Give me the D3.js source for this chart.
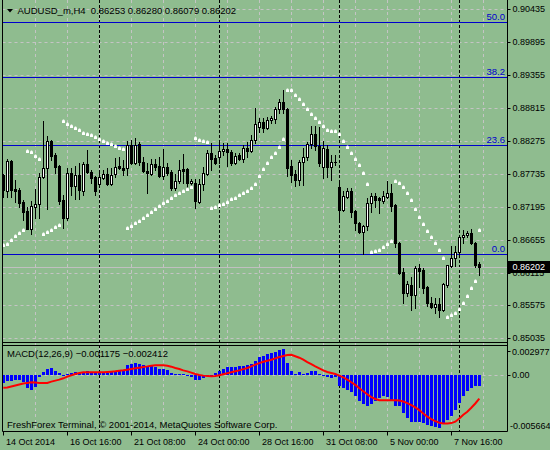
<!DOCTYPE html>
<html>
<head>
<meta charset="utf-8">
<script src="https://cdn.jsdelivr.net/npm/d3@7"></script>
<style>
  body { margin: 0; background: #8fbc8f; }
  svg { display: block; font-family: "Liberation Sans", Arial, sans-serif; }
</style>
</head>
<body>
<svg id="chart"></svg>
<script>
// AUDUSD_m H4, 120 bars from 14 Oct 2014 00:00
var opens = [0.87716,0.87453,0.87946,0.87486,0.87470,0.87273,0.87125,0.86829,0.87191,0.87240,
  0.87683,0.87831,0.88274,0.88044,0.87863,0.87305,0.87010,0.87749,0.87535,0.87716,
  0.87453,0.87896,0.87765,0.87683,0.87568,0.87666,0.87732,0.87568,0.87732,0.87863,
  0.87831,0.87831,0.88208,0.87913,0.88225,0.87929,0.87781,0.87732,0.87896,0.87863,
  0.87699,0.87847,0.87765,0.87502,0.87617,0.87814,0.87814,0.87584,0.87584,0.87273,
  0.87568,0.87732,0.88077,0.87995,0.88011,0.88110,0.88142,0.88093,0.87913,0.88044,
  0.87978,0.88159,0.88110,0.88290,0.88504,0.88586,0.88487,0.88618,0.88635,0.88799,
  0.88914,0.88799,0.87863,0.87732,0.87634,0.87929,0.88011,0.88225,0.88389,0.88192,
  0.87847,0.88142,0.87847,0.87929,0.87519,0.87141,0.87355,0.87453,0.87125,0.86928,
  0.86780,0.86879,0.87256,0.87371,0.87338,0.87289,0.87355,0.87420,0.87223,0.86600,
  0.86124,0.85779,0.85910,0.85746,0.86189,0.86156,0.85877,0.85615,0.85549,0.85598,
  0.85500,0.85910,0.86222,0.86353,0.86452,0.86698,0.86731,0.86764,0.86600,0.86253];
var highs = [0.87732,0.87978,0.87962,0.87634,0.87502,0.87305,0.87191,0.87289,0.87486,0.87749,
  0.88602,0.88356,0.88290,0.88077,0.87880,0.87387,0.87831,0.87831,0.87863,0.87913,
  0.87929,0.88126,0.87798,0.87699,0.87798,0.87798,0.87831,0.87831,0.87995,0.88011,
  0.87962,0.88274,0.88290,0.88323,0.88257,0.88011,0.87913,0.87978,0.87978,0.88011,
  0.88142,0.87913,0.87798,0.87732,0.87962,0.88060,0.87831,0.87650,0.87650,0.87650,
  0.87847,0.88126,0.88241,0.88044,0.88241,0.88241,0.88241,0.88126,0.88077,0.88077,
  0.88208,0.88257,0.88372,0.88815,0.88651,0.88651,0.88668,0.88684,0.88832,0.88963,
  0.89111,0.88815,0.87962,0.87798,0.87962,0.88159,0.88257,0.88520,0.88520,0.88504,
  0.88274,0.88208,0.88044,0.88044,0.87601,0.87453,0.87502,0.87502,0.87141,0.86944,
  0.86895,0.87338,0.87420,0.87420,0.87355,0.87453,0.87617,0.87568,0.87240,0.86616,
  0.86189,0.85976,0.86042,0.86222,0.86255,0.86189,0.85894,0.85713,0.85697,0.85697,
  0.85943,0.86239,0.86550,0.86550,0.86715,0.86813,0.86797,0.86829,0.86616,0.86280];
var lows = [0.87355,0.87355,0.87355,0.87273,0.87191,0.86977,0.86829,0.86747,0.87010,0.87010,
  0.87666,0.87158,0.87962,0.87749,0.87240,0.86846,0.86977,0.87387,0.87322,0.87322,
  0.87387,0.87749,0.87584,0.87387,0.87552,0.87650,0.87552,0.87552,0.87683,0.87814,
  0.87716,0.87716,0.87896,0.87896,0.87880,0.87765,0.87420,0.87716,0.87798,0.87683,
  0.87650,0.87716,0.87470,0.87470,0.87584,0.87584,0.87519,0.87535,0.87174,0.87256,
  0.87470,0.87716,0.87798,0.87896,0.87913,0.88044,0.87863,0.87880,0.87896,0.87962,
  0.87929,0.88011,0.88093,0.88241,0.88421,0.88421,0.88471,0.88569,0.88569,0.88733,
  0.88733,0.87699,0.87601,0.87535,0.87552,0.87552,0.87962,0.88159,0.88126,0.87863,
  0.87666,0.87683,0.87634,0.87880,0.86977,0.87125,0.87338,0.87026,0.86813,0.86764,
  0.86419,0.86813,0.87108,0.87191,0.87092,0.87256,0.87338,0.87125,0.86534,0.86091,
  0.85615,0.85730,0.85500,0.85533,0.85877,0.85779,0.85566,0.85533,0.85451,0.85385,
  0.85484,0.85877,0.86206,0.86222,0.86403,0.86600,0.86698,0.86583,0.86206,0.86079];
var closes = [0.87470,0.87946,0.87470,0.87453,0.87256,0.87108,0.86829,0.87207,0.87240,0.87683,
  0.87831,0.88274,0.88028,0.87847,0.87289,0.87010,0.87749,0.87535,0.87716,0.87470,
  0.87896,0.87765,0.87666,0.87453,0.87683,0.87732,0.87568,0.87716,0.87847,0.87831,
  0.87798,0.88208,0.87913,0.88208,0.87929,0.87781,0.87749,0.87896,0.87847,0.87699,
  0.87847,0.87749,0.87502,0.87617,0.87798,0.87781,0.87584,0.87617,0.87289,0.87568,
  0.87749,0.88077,0.87978,0.87913,0.88110,0.88142,0.88093,0.87913,0.88028,0.87978,
  0.88159,0.88110,0.88290,0.88553,0.88586,0.88487,0.88618,0.88651,0.88799,0.88914,
  0.88799,0.87831,0.87716,0.87634,0.87929,0.88011,0.88225,0.88389,0.88192,0.87913,
  0.88159,0.87847,0.87929,0.87921,0.87141,0.87371,0.87453,0.87108,0.86928,0.86780,
  0.86879,0.87256,0.87371,0.87305,0.87305,0.87371,0.87420,0.87207,0.86600,0.86107,
  0.85779,0.85927,0.85746,0.86189,0.86140,0.85861,0.85615,0.85549,0.85598,0.85500,
  0.85927,0.86239,0.86353,0.86452,0.86698,0.86731,0.86764,0.86600,0.86239,0.86202];
var sar = [0.86567,0.86583,0.86649,0.86710,0.86764,0.86813,0.88110,0.88093,0.88028,0.87978,
  0.86747,0.86780,0.86813,0.86857,0.86895,0.88607,0.88553,0.88520,0.88492,0.88454,
  0.88410,0.88384,0.88372,0.88344,0.88307,0.88274,0.88246,0.88220,0.88192,0.88164,
  0.88142,0.86841,0.86879,0.86923,0.86961,0.87010,0.87059,0.87113,0.87163,0.87207,
  0.87251,0.87294,0.87333,0.87387,0.87420,0.87448,0.87481,0.87519,0.88323,0.88290,
  0.88274,0.88252,0.87174,0.87191,0.87218,0.87240,0.87273,0.87314,0.87346,0.87379,
  0.87412,0.87445,0.87502,0.87568,0.87699,0.87814,0.87908,0.88003,0.88082,0.88175,
  0.88298,0.89111,0.89111,0.89029,0.88963,0.88876,0.88799,0.88717,0.88646,0.88581,
  0.88520,0.88454,0.88443,0.88438,0.88389,0.88279,0.88180,0.88082,0.87983,0.87885,
  0.87753,0.87568,0.86447,0.86463,0.86485,0.86529,0.86575,0.86632,0.87622,0.87584,
  0.87524,0.87420,0.87305,0.87158,0.87026,0.86912,0.86797,0.86693,0.86600,0.86485,
  0.86358,0.85390,0.85418,0.85446,0.85511,0.85610,0.85730,0.85861,0.85976,0.86813];
var macdMain = [-0.00080,-0.00060,-0.00060,-0.00050,-0.00050,-0.00070,-0.00130,-0.00150,-0.00120,-0.00020,
  0.00030,0.00060,0.00070,0.00040,0.00020,-0.00003,0.00010,0.00020,0.00030,0.00020,
  0.00030,0.00040,0.00030,0.00020,0.00020,0.00020,0.00020,0.00023,0.00033,0.00043,
  0.00050,0.00100,0.00110,0.00117,0.00110,0.00100,0.00083,0.00083,0.00073,0.00057,
  0.00057,0.00043,0.00017,0.00007,0.00010,0.00007,-0.00017,-0.00023,-0.00050,-0.00057,
  -0.00033,-0.00017,-0.00005,0.00017,0.00033,0.00057,0.00077,0.00077,0.00077,0.00083,
  0.00090,0.00093,0.00107,0.00140,0.00173,0.00190,0.00207,0.00217,0.00227,0.00250,
  0.00260,0.00117,0.00033,0.00007,0.00023,0.00010,0.00017,0.00033,0.00033,0.00010,
  -0.00002,-0.00027,-0.00033,-0.00027,-0.00117,-0.00133,-0.00150,-0.00173,-0.00217,-0.00267,
  -0.00300,-0.00317,-0.00300,-0.00267,-0.00233,-0.00217,-0.00223,-0.00267,-0.00317,-0.00320,
  -0.00383,-0.00433,-0.00473,-0.00473,-0.00473,-0.00483,-0.00507,-0.00517,-0.00527,-0.00533,
  -0.00500,-0.00460,-0.00417,-0.00360,-0.00283,-0.00217,-0.00167,-0.00133,-0.00117,-0.001175];
var macdSignal = [-0.00133,-0.00130,-0.00120,-0.00110,-0.00100,-0.00090,-0.00083,-0.00077,-0.00080,-0.00083,
  -0.00083,-0.00083,-0.00070,-0.00060,-0.00050,-0.00037,-0.00020,-0.00007,0.00007,0.00017,
  0.00023,0.00023,0.00023,0.00023,0.00023,0.00023,0.00027,0.00030,0.00033,0.00040,
  0.00043,0.00050,0.00057,0.00063,0.00070,0.00077,0.00083,0.00090,0.00093,0.00093,
  0.00093,0.00090,0.00080,0.00067,0.00057,0.00043,0.00033,0.00020,0.00007,-0.00003,
  -0.00010,-0.00015,-0.00017,-0.00013,-0.00007,0.00003,0.00013,0.00023,0.00033,0.00043,
  0.00055,0.00067,0.00083,0.00100,0.00115,0.00130,0.00140,0.00150,0.00163,0.00177,
  0.00187,0.00197,0.00200,0.00185,0.00170,0.00150,0.00125,0.00105,0.00083,0.00063,
  0.00043,0.00027,0.00017,0.00007,-0.00010,-0.00027,-0.00050,-0.00077,-0.00103,-0.00137,
  -0.00167,-0.00197,-0.00225,-0.00245,-0.00257,-0.00257,-0.00257,-0.00257,-0.00257,-0.00260,
  -0.00270,-0.00287,-0.00307,-0.00330,-0.00357,-0.00390,-0.00423,-0.00447,-0.00467,-0.00483,
  -0.00490,-0.00490,-0.00487,-0.00473,-0.00440,-0.00403,-0.00373,-0.00333,-0.00290,-0.002412];

var priceTicks = [0.90435,0.89895,0.89355,0.88815,0.88275,0.87735,0.87195,0.86655,0.86115,0.85575,0.85035];
var fibNames = ["0.0","23.6","38.2","50.0"];
var fibPrices = [0.86414,0.88211,0.89323,0.90222];
var bidPrice = 0.86202;
var macdTicks = [0.002977, 0.00, -0.005664];
var macdTickLabels = ["0.002977", "0.00", "-0.005664"];
var timeBars = [0,16,32,48,64,80,96,112];
var timeLabels = ["14 Oct 2014","16 Oct 16:00","21 Oct 08:00","24 Oct 00:00","28 Oct 16:00","31 Oct 08:00","5 Nov 00:00","7 Nov 16:00"];
var weekStarts = [24,54,84,114];

var W = 550, H = 450;
var L = 2.5, R = 507.5, mainBottom = 342.5, subTop = 345.5, subBottom = 431.5;

var svg = d3.select("#chart").attr("width", W).attr("height", H);
svg.append("rect").attr("width", W).attr("height", H).attr("fill", "#8fbc8f");

var bars = d3.range(opens.length);
var x = d3.scaleLinear().domain([0, 119]).range([3.3, 479.3]);
var y = d3.scaleLinear().domain([0.85035, 0.90435]).range([338.3, 9.3]);
var ym = d3.scaleLinear().domain([-0.005664, 0.002977]).range([431, 345]);

var px = function(i) { return Math.round(x(i)); };
var py = function(v) { return Math.round(y(v)); };

// grid (grey dashed)
var grid = svg.append("g").attr("stroke", "#c4c4c4").attr("stroke-dasharray", "3,3");
grid.selectAll("line.h").data(priceTicks).enter().append("line")
  .attr("x1", L).attr("x2", R)
  .attr("y1", function(d) { return py(d) + 0.5; })
  .attr("y2", function(d) { return py(d) + 0.5; });
grid.selectAll("line.v").data(d3.range(8, 121, 8)).enter().append("line")
  .attr("x1", function(d) { return px(d) + 0.5; })
  .attr("x2", function(d) { return px(d) + 0.5; })
  .attr("y1", 0).attr("y2", subBottom);
grid.append("line").attr("x1", L).attr("x2", R)
  .attr("y1", Math.round(ym(0)) + 0.5).attr("y2", Math.round(ym(0)) + 0.5);

// week separators
svg.append("g").attr("stroke", "#000").attr("stroke-dasharray", "3,2")
  .selectAll("line").data(weekStarts).enter().append("line")
  .attr("x1", function(d) { return px(d) + 0.5; })
  .attr("x2", function(d) { return px(d) + 0.5; })
  .attr("y1", 0).attr("y2", subBottom);

// fibonacci levels
var fib = svg.append("g");
fib.selectAll("line").data(fibPrices).enter().append("line")
  .attr("x1", L).attr("x2", R)
  .attr("y1", function(d) { return py(d) + 0.5; })
  .attr("y2", function(d) { return py(d) + 0.5; })
  .attr("stroke", "#0000cd");
fib.selectAll("text").data(fibPrices).enter().append("text")
  .attr("x", 505).attr("y", function(d) { return py(d) - 2; })
  .attr("text-anchor", "end").attr("font-size", 9.5).attr("fill", "#0000cd")
  .text(function(d, i) { return fibNames[i]; });

// bid line
svg.append("line").attr("x1", L).attr("x2", R)
  .attr("y1", py(bidPrice) + 0.5).attr("y2", py(bidPrice) + 0.5)
  .attr("stroke", "#c0c0c0");

// candles
var candles = svg.append("g");
candles.selectAll("line").data(bars).enter().append("line")
  .attr("x1", function(i) { return px(i) + 0.5; })
  .attr("x2", function(i) { return px(i) + 0.5; })
  .attr("y1", function(i) { return py(highs[i]); })
  .attr("y2", function(i) { return py(lows[i]) + 1; })
  .attr("stroke", "#000");
candles.selectAll("rect").data(bars).enter().append("rect")
  .each(function(i) {
    var up = closes[i] > opens[i];
    var top = py(Math.max(opens[i], closes[i])), bot = py(Math.min(opens[i], closes[i]));
    var r = d3.select(this);
    if (up) {
      r.attr("x", px(i) - 0.5).attr("y", top + 0.5).attr("width", 2)
        .attr("height", Math.max(bot - top, 1)).attr("fill", "#fff").attr("stroke", "#000");
    } else {
      r.attr("x", px(i) - 1).attr("y", top).attr("width", 3)
        .attr("height", Math.max(bot - top + 1, 1)).attr("fill", "#000");
    }
  });

// parabolic SAR
svg.append("g").attr("fill", "#fff")
  .selectAll("path").data(bars).enter().append("path")
  .attr("d", function(i) {
    var cx = px(i), cy = py(sar[i]);
    return "M" + (cx - 1) + "," + (cy + 2) + "h3v-2.5l-1,-1h-1l-1,1z";
  });

// MACD histogram
var z = Math.round(ym(0));
svg.append("g").attr("fill", "#0000ff")
  .selectAll("rect").data(bars).enter().append("rect")
  .attr("x", function(i) { return px(i) - 1; })
  .attr("width", 3)
  .attr("y", function(i) { return macdMain[i] >= 0 ? Math.round(ym(macdMain[i])) : z; })
  .attr("height", function(i) { return Math.max(Math.abs(Math.round(ym(macdMain[i])) - z), 1); });

// MACD signal
svg.append("path").datum(bars)
  .attr("fill", "none").attr("stroke", "#ff0000").attr("stroke-width", 2)
  .attr("d", d3.line().x(function(i) { return x(i); }).y(function(i) { return ym(macdSignal[i]); }));

// frame
var frame = svg.append("g").attr("stroke", "#000").attr("fill", "none");
frame.append("line").attr("x1", L).attr("x2", L).attr("y1", 0).attr("y2", subBottom);
frame.append("line").attr("x1", R).attr("x2", R).attr("y1", 0).attr("y2", subBottom);
frame.append("line").attr("x1", L).attr("x2", R).attr("y1", mainBottom).attr("y2", mainBottom);
frame.append("line").attr("x1", L).attr("x2", R).attr("y1", subTop).attr("y2", subTop);
frame.append("line").attr("x1", L).attr("x2", R).attr("y1", subBottom).attr("y2", subBottom);

// price axis
var axis = svg.append("g").attr("font-size", 9).attr("fill", "#000");
axis.selectAll("line").data(priceTicks).enter().append("line")
  .attr("x1", R).attr("x2", R + 3)
  .attr("y1", function(d) { return py(d) + 0.5; })
  .attr("y2", function(d) { return py(d) + 0.5; })
  .attr("stroke", "#000");
axis.selectAll("text").data(priceTicks).enter().append("text")
  .attr("x", 512.5).attr("y", function(d) { return py(d) + 2.5; })
  .text(function(d) { return d3.format(".5f")(d); });

// bid label
svg.append("rect").attr("x", 508).attr("y", py(bidPrice) - 6).attr("width", 42).attr("height", 12).attr("fill", "#000");
svg.append("text").attr("x", 512.5).attr("y", py(bidPrice) + 3).attr("font-size", 9)
  .attr("fill", "#fff").text(d3.format(".5f")(bidPrice));

// MACD axis
var maxis = svg.append("g").attr("font-size", 9).attr("fill", "#000");
maxis.selectAll("text").data(macdTicks).enter().append("text")
  .attr("x", function(d) { return d < 0 ? 510 : 512; })
  .attr("y", function(d, i) { return [355, 378, 428.5][i]; })
  .text(function(d, i) { return macdTickLabels[i]; });
maxis.selectAll("line").data([351.5, 375.5]).enter().append("line")
  .attr("x1", R).attr("x2", R + 3).attr("y1", function(d) { return d; }).attr("y2", function(d) { return d; })
  .attr("stroke", "#000");

// time axis
var taxis = svg.append("g").attr("font-size", 9);
taxis.selectAll("line").data(timeBars).enter().append("line")
  .attr("x1", function(d) { return px(d) + 0.5; })
  .attr("x2", function(d) { return px(d) + 0.5; })
  .attr("y1", subBottom).attr("y2", subBottom + 4)
  .attr("stroke", "#000");
taxis.selectAll("text").data(timeBars).enter().append("text")
  .attr("x", function(d) { return px(d) + 3; }).attr("y", 445)
  .text(function(d, i) { return timeLabels[i]; });

// captions
svg.append("path").attr("d", "M7,9h6l-3,3.5z").attr("fill", "#000");
svg.append("text").attr("x", 17.5).attr("y", 14).attr("font-size", 9.5)
  .attr("xml:space", "preserve")
  .text("AUDUSD_m,H4  " + [opens[119], highs[119], lows[119], closes[119]].map(d3.format(".5f")).join(" "));
svg.append("text").attr("x", 7).attr("y", 357).attr("font-size", 9.5)
  .text("MACD(12,26,9) " + d3.format(".6f")(macdMain[119]) + " " + d3.format(".6f")(macdSignal[119]));
svg.append("text").attr("x", 7).attr("y", 427.5).attr("font-size", 9.5)
  .text("FreshForex Terminal, \u00a9 2001-2014, MetaQuotes Software Corp.");
</script>
</body>
</html>
